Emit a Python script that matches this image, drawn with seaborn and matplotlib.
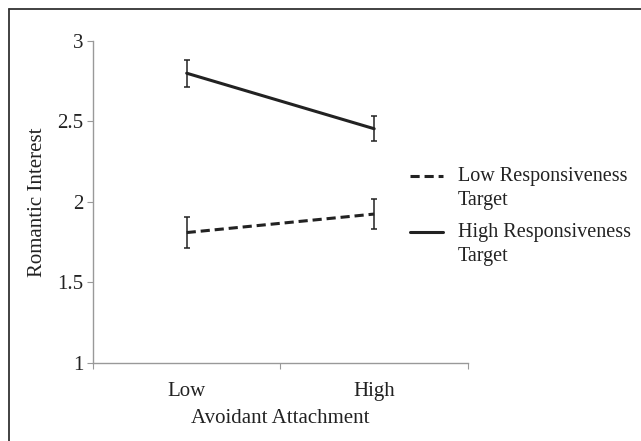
import pandas as pd
import numpy as np
import matplotlib
matplotlib.use('Agg')
import matplotlib.pyplot as plt
from matplotlib.lines import Line2D
from matplotlib.legend_handler import HandlerLine2D
import seaborn as sns

sns.set_style('white')
plt.rcParams['font.family'] = ['Liberation Serif', 'DejaVu Serif']

# data
categories = ['Low', 'High']
low_resp = [1.81, 1.925]
low_resp_err = [0.095, 0.095]
high_resp = [2.80, 2.455]
high_resp_err = [0.083, 0.078]
series_names = ['Low Responsiveness\nTarget', 'High Responsiveness\nTarget']

df = pd.DataFrame({
    'x': [0, 1, 0, 1],
    'y': low_resp + high_resp,
    'group': [series_names[0]] * 2 + [series_names[1]] * 2,
})


# legend handle lined up with the first text line
class TopLineHandler(HandlerLine2D):
    def create_artists(self, legend, orig_handle, xdescent, ydescent, width,
                       height, fontsize, trans):
        arts = super().create_artists(legend, orig_handle, xdescent, ydescent,
                                      width, height, fontsize, trans)
        for a in arts:
            a.set_ydata(np.asarray(a.get_ydata(), dtype=float) + 0.62 * fontsize)
        return arts


fig = plt.figure(figsize=(6.41, 4.41), dpi=100)
ax = fig.add_axes([0.145, 0.177, 0.585, 0.730])

ink = '#222222'
fs = 15
sns.lineplot(data=df, x='x', y='y', hue='group', style='group',
             palette=[ink, ink], dashes=[(3, 1.6), ''], linewidth=2.2,
             legend=False, ax=ax)

ax.errorbar([0, 1], low_resp, yerr=low_resp_err, fmt='none', ecolor=ink,
            elinewidth=1.1, capsize=2.5, capthick=1.1)
ax.errorbar([0, 1], high_resp, yerr=high_resp_err, fmt='none', ecolor=ink,
            elinewidth=1.1, capsize=2.5, capthick=1.1)

ax.set_xlim(-0.5, 1.5)
ax.set_ylim(1, 3)
ax.set_yticks([1, 1.5, 2, 2.5, 3])
ax.set_yticklabels(['1', '1.5', '2', '2.5', '3'])
ax.set_xticks([-0.5, 0.5, 1.5])
ax.set_xticklabels([])
ax.set_xticks([0, 1], minor=True)
ax.set_xticklabels(categories, minor=True)
ax.tick_params(axis='x', which='major', direction='out', length=4, color='#999999', bottom=True)
ax.tick_params(axis='x', which='minor', length=0, labelsize=fs, pad=13.5, colors=ink)
ax.tick_params(axis='y', direction='out', length=4, color='#999999', left=True,
               labelsize=fs, labelcolor=ink, pad=3)

for s in ['top', 'right']:
    ax.spines[s].set_visible(False)
for s in ['left', 'bottom']:
    ax.spines[s].set_color('#999999')
    ax.spines[s].set_linewidth(1.0)

ax.set_xlabel('Avoidant Attachment', fontsize=fs, color=ink, labelpad=6)
ax.set_ylabel('Romantic Interest', fontsize=fs, color=ink, labelpad=7)

handles = [Line2D([], [], color=ink, lw=2.2, dashes=(3, 1.6)),
           Line2D([], [], color=ink, lw=2.2)]
leg = fig.legend(handles, series_names, loc='upper left', bbox_to_anchor=(0.611, 0.663),
                 frameon=False, fontsize=14.5, handlelength=1.64, handletextpad=0.75,
                 labelspacing=0.68, labelcolor=ink,
                 handler_map={Line2D: TopLineHandler()})
for t in leg.get_texts():
    t.set_linespacing(1.35)

# frame lines on top and left of the figure
fig.add_artist(Line2D([9 / 641, 9 / 641], [0, 1 - 9 / 441], transform=fig.transFigure,
                      color='#333333', lw=1.3))
fig.add_artist(Line2D([9 / 641, 1], [1 - 9 / 441, 1 - 9 / 441], transform=fig.transFigure,
                      color='#333333', lw=1.3))

fig.savefig('out.png', dpi=100)
